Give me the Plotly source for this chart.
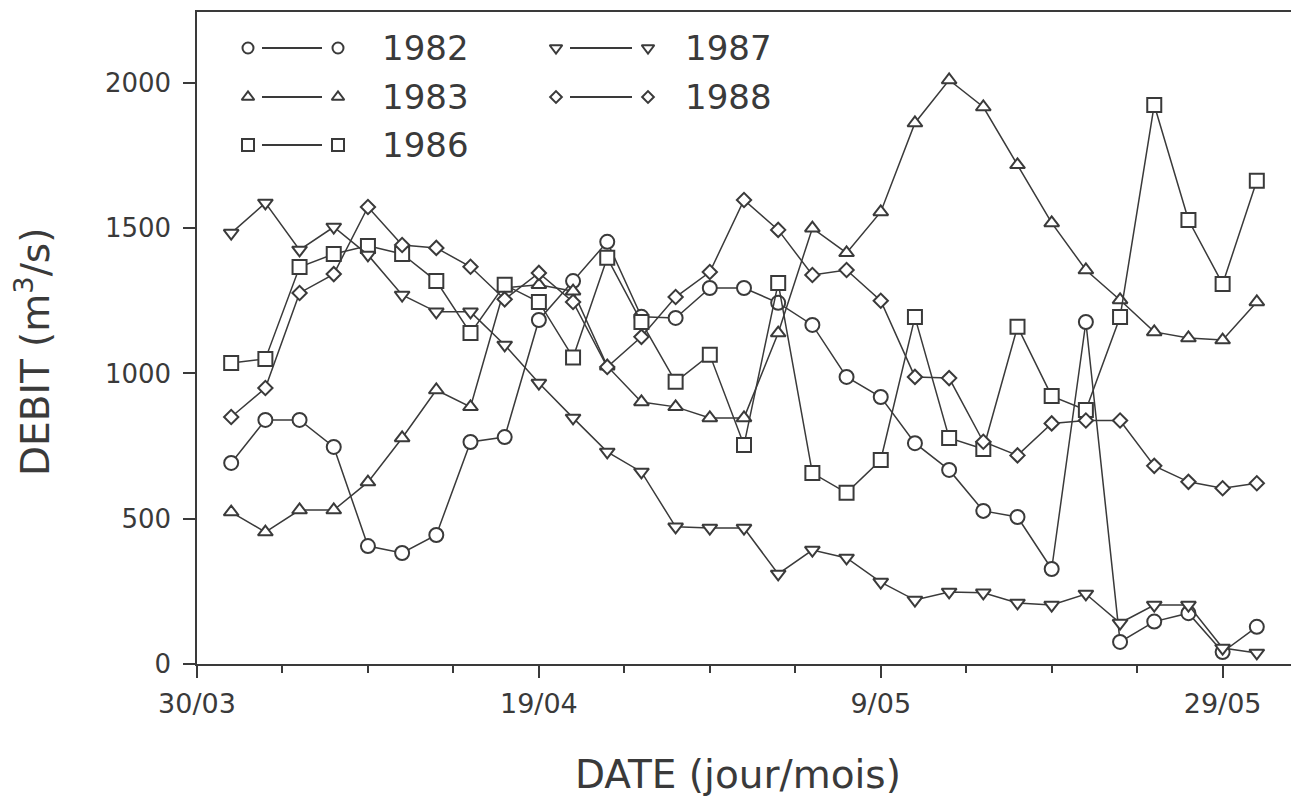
import plotly.graph_objects as go

# ---- data (day offset from 30/03; values in m3/s) ----
days = list(range(2, 64, 2))  # 1/04 ... 31/05

q1982 = [692, 840, 840, 747, 406, 382, 444, 764, 781, 1184, 1318, 1453, 1195, 1191, 1294, 1294,
         1243, 1167, 988, 919, 760, 668, 527, 506, 327, 1177, 76, 146, 175, 41, 128]
q1983 = [523, 454, 530, 530, 626, 778, 943, 885, 1295, 1305, 1283, 1025, 902, 885, 847, 847,
         1139, 1500, 1415, 1556, 1862, 2010, 1917, 1718, 1518, 1356, 1253, 1143, 1122, 1115, 1246]
q1986 = [1036, 1050, 1366, 1411, 1439, 1411, 1318, 1139, 1305, 1246, 1055, 1398, 1177, 971, 1064, 754,
         1311, 657, 589, 702, 1194, 778, 740, 1161, 922, 874, 1194, 1924, 1528, 1308, 1663]
q1987 = [1483, 1587, 1425, 1504, 1408, 1270, 1212, 1212, 1098, 967, 847, 730, 661, 472, 468, 468,
         310, 392, 365, 282, 220, 248, 245, 210, 203, 241, 141, 203, 203, 55, 38]
q1988 = [850, 950, 1277, 1342, 1573, 1442, 1432, 1367, 1255, 1346, 1246, 1022, 1126, 1263, 1349, 1597,
         1494, 1339, 1356, 1250, 988, 984, 765, 718, 828, 838, 838, 682, 627, 605, 622]

series_names = ["1982", "1983", "1986", "1987", "1988"]
series_vals = [q1982, q1983, q1986, q1987, q1988]
symbols = ["circle", "triangle-up", "square", "triangle-down", "diamond"]
sizes = [14, 13, 14, 13, 11]
legend_sizes = [11, 11, 12, 11, 9]

x_tickvals = [0, 20, 40, 60]
x_ticktext = ["30/03", "19/04", "9/05", "29/05"]
y_tickvals = [0, 500, 1000, 1500, 2000]

INK = "#3a3a3a"
FONT = "DejaVu Sans"

fig = go.Figure()

for name, vals, sym, sz in zip(series_names, series_vals, symbols, sizes):
    fig.add_trace(go.Scatter(
        x=days, y=vals, name=name, mode="lines+markers",
        line=dict(color=INK, width=1.5),
        marker=dict(symbol=sym, size=sz, color="white", line=dict(color=INK, width=2)),
        showlegend=False, cliponaxis=False,
    ))

# ---- custom legend (drawn on a pixel-based overlay axis) ----
# (left marker x, right marker x, text x, row y, line start x, line end x)
legend_layout = {
    "1982": (248, 338, 380, 48, 262, 322),
    "1983": (248, 338, 380, 97, 262, 322),
    "1986": (248, 338, 380, 145, 262, 322),
    "1987": (556, 648, 683, 48, 570, 632),
    "1988": (556, 648, 683, 97, 570, 632),
}
for name, sym, sz in zip(series_names, symbols, legend_sizes):
    xl, xr, xt, yr, ls, le = legend_layout[name]
    fig.add_trace(go.Scatter(
        x=[ls, le], y=[yr, yr], mode="lines", xaxis="x2", yaxis="y2",
        line=dict(color=INK, width=2), showlegend=False, hoverinfo="skip",
    ))
    fig.add_trace(go.Scatter(
        x=[xl, xr], y=[yr, yr], mode="markers", xaxis="x2", yaxis="y2",
        marker=dict(symbol=sym, size=sz, color="white", line=dict(color=INK, width=2)),
        showlegend=False, hoverinfo="skip",
    ))
    fig.add_annotation(x=xt, y=yr, xref="x2", yref="y2", text=name, showarrow=False,
                       xanchor="left", yanchor="middle",
                       font=dict(family=FONT, size=34, color=INK))

fig.add_annotation(x=-0.1499, y=0.4785, xref="paper", yref="paper",
                   text="DEBIT (m<sup>3</sup>/s)", textangle=-90, showarrow=False,
                   xanchor="center", yanchor="middle",
                   font=dict(family=FONT, size=39, color=INK))
fig.add_annotation(x=0.4945, y=-0.170, xref="paper", yref="paper",
                   text="DATE (jour/mois)", showarrow=False,
                   xanchor="center", yanchor="middle",
                   font=dict(family=FONT, size=39, color=INK))

fig.update_layout(
    width=1291, height=800,
    margin=dict(l=197, r=0, t=12, b=136),
    paper_bgcolor="white", plot_bgcolor="white",
    font=dict(family=FONT, color=INK),
    xaxis=dict(
        range=[0, 64], tickvals=x_tickvals, ticktext=x_ticktext,
        ticks="outside", ticklen=12, tickwidth=1.5, tickcolor=INK,
        minor=dict(dtick=5, tick0=0, ticks="outside", ticklen=7, tickwidth=1.5, tickcolor=INK),
        showline=True, linecolor=INK, linewidth=1.5, mirror=True,
        showgrid=False, zeroline=False, ticklabelstandoff=3,
        tickfont=dict(family=FONT, size=27, color=INK),
    ),
    yaxis=dict(
        range=[0, 2244], tickvals=y_tickvals,
        ticks="outside", ticklen=12, tickwidth=1.5, tickcolor=INK,
        showline=True, linecolor=INK, linewidth=1.5,
        showgrid=False, zeroline=False, ticklabelstandoff=7,
        tickfont=dict(family=FONT, size=26, color=INK),
    ),
    xaxis2=dict(overlaying="x", range=[197, 1291], visible=False, fixedrange=True),
    yaxis2=dict(overlaying="y", range=[664, 12], visible=False, fixedrange=True),
)

fig.write_html("out.html")
